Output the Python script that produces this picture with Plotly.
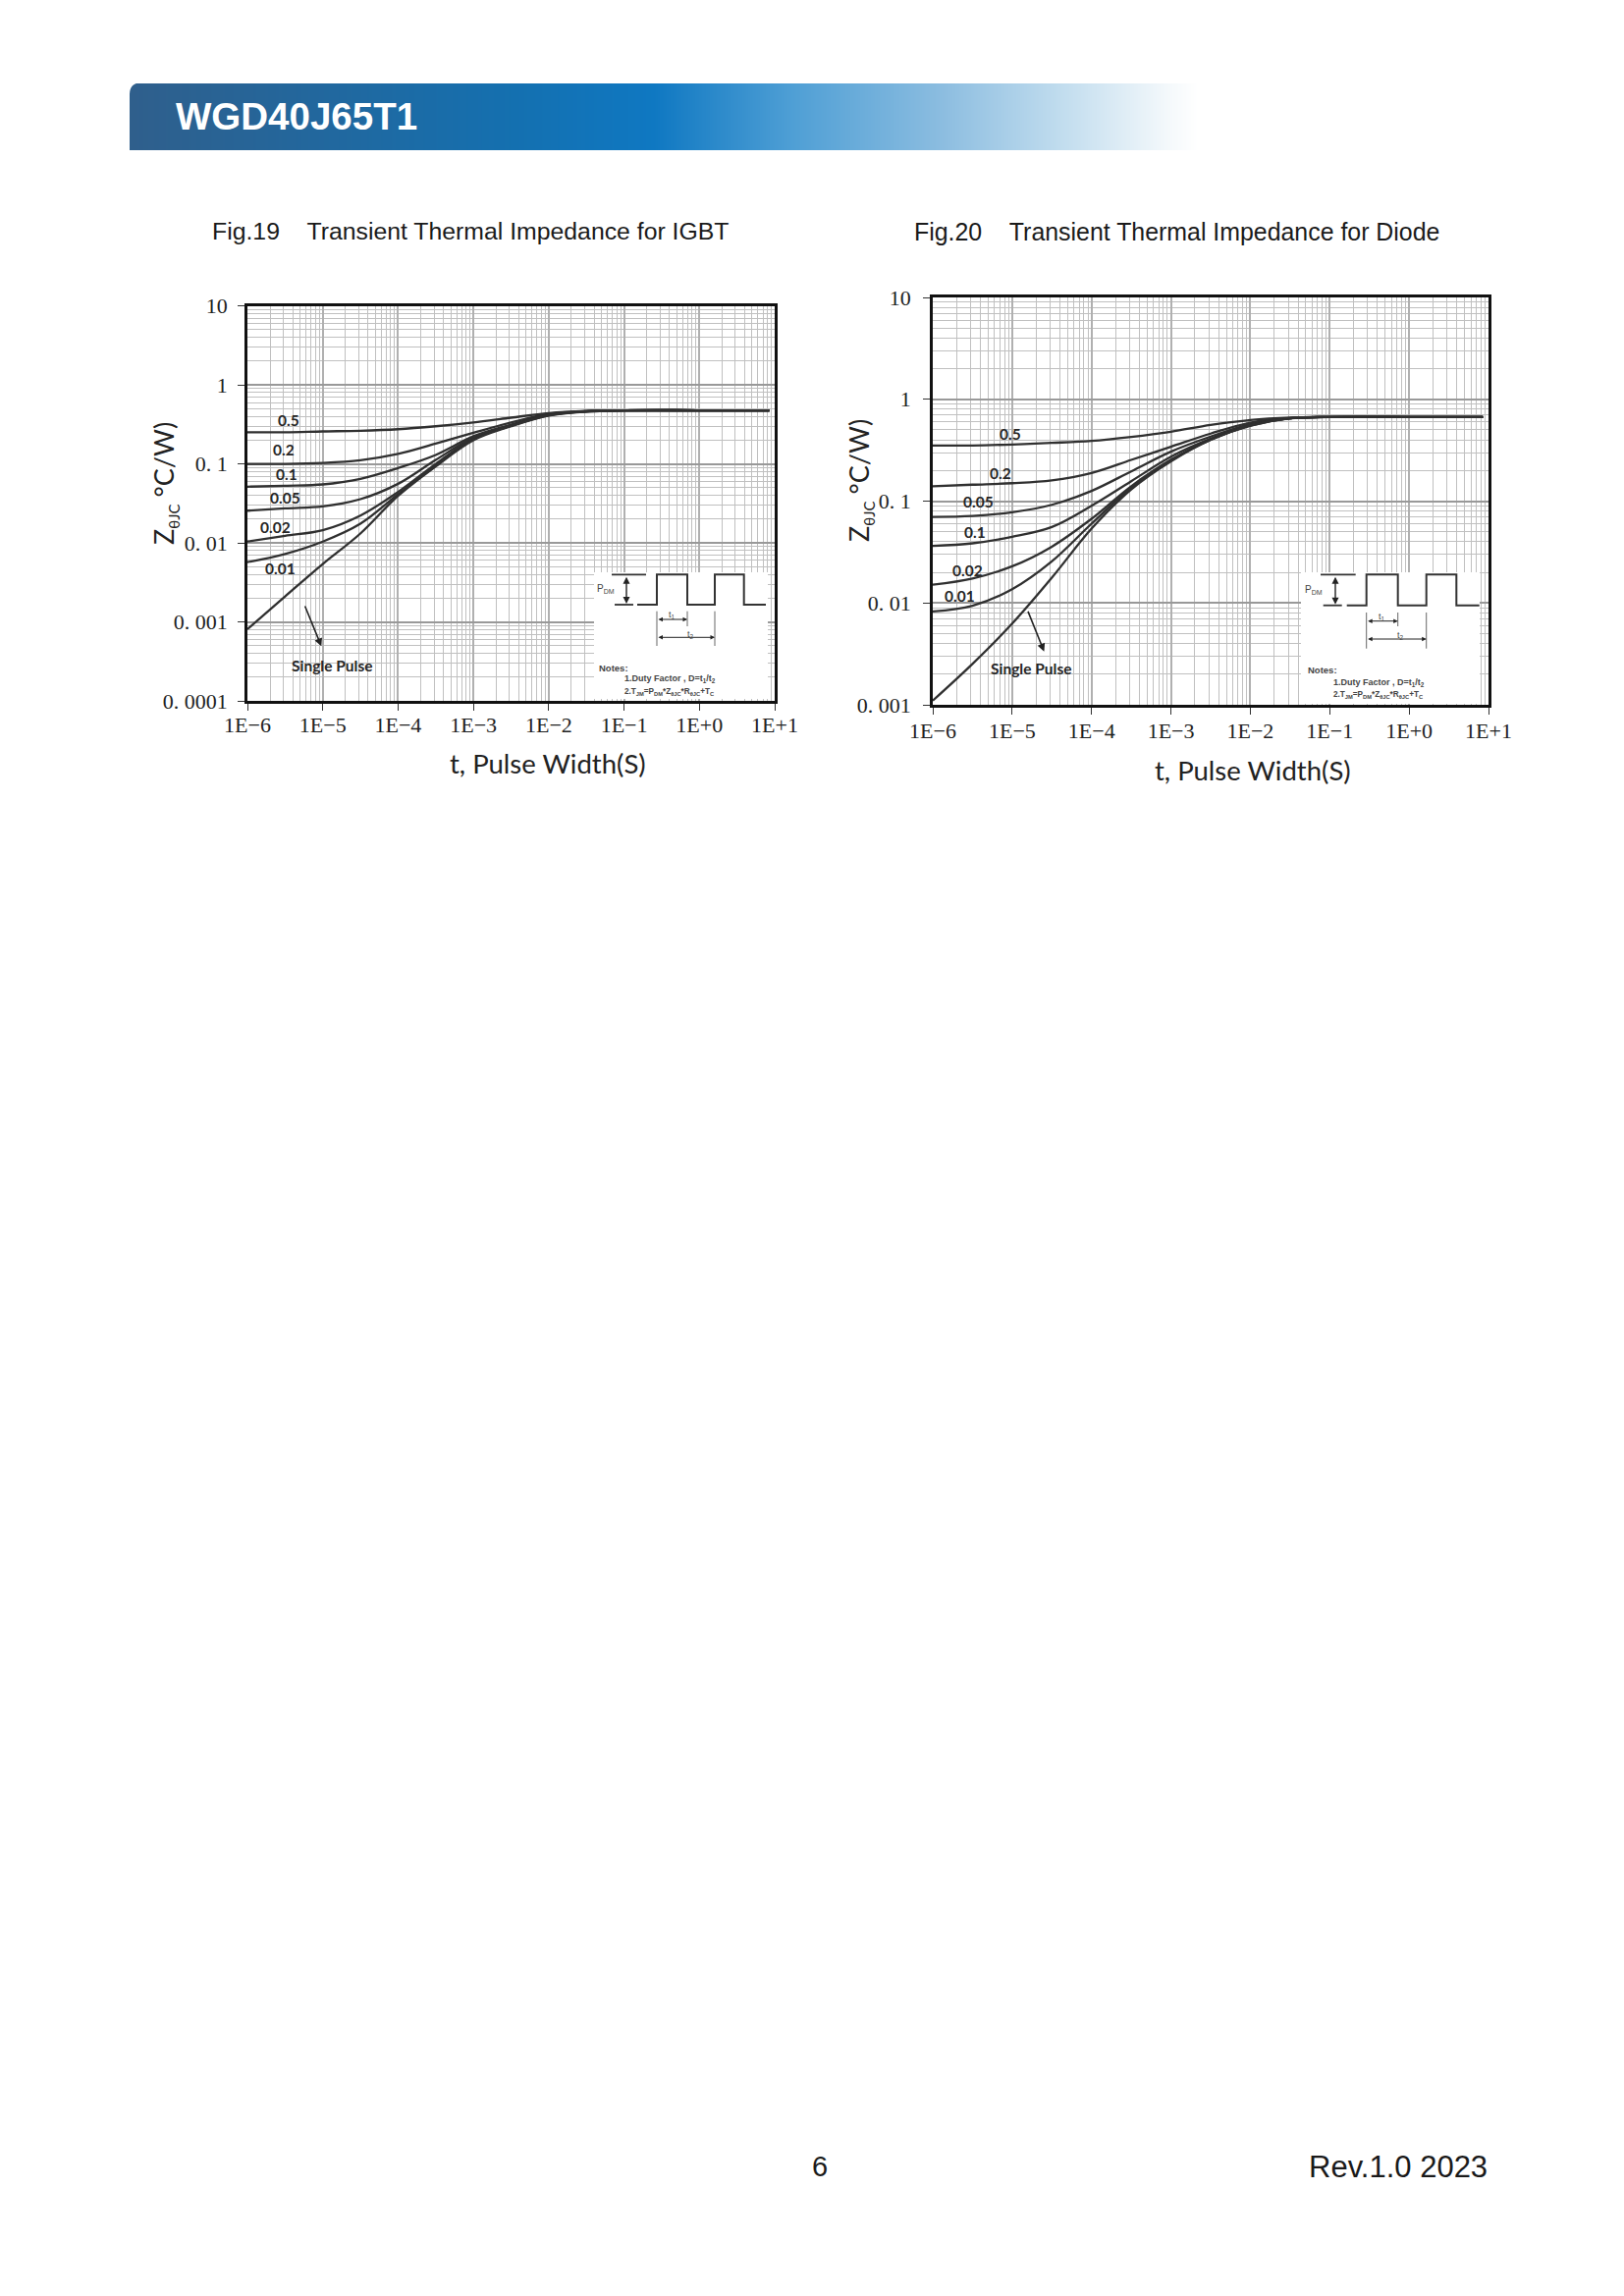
import plotly.graph_objects as go

# ---------- data ----------
fig19_t = [1e-6, 3.16e-6, 1e-5, 3.16e-5, 1e-4, 3.16e-4, 1e-3, 3.16e-3, 1e-2, 3.16e-2, 1e-1, 1, 8.5]
fig19_d05 = [.252, .252, .258, .263, .275, .30, .335, .385, .44, .468, .476, .477, .477]
fig19_d02 = [.100, .100, .103, .1115, .134, .181, .248, .335, .43, .466, .476, .477, .477]
fig19_d01 = [.0515, .053, .055, .0647, .0887, .13, .224, .315, .42, .464, .476, .477, .477]
fig19_d005 = [.0256, .0274, .029, .0358, .056, .1125, .215, .31, .418, .463, .476, .477, .477]
fig19_d002 = [.0104, .0123, .0145, .0222, .0442, .10, .21, .306, .415, .462, .475, .477, .477]
fig19_d001 = [.0057, .00724, .0104, .0175, .0413, .0955, .205, .303, .412, .461, .475, .477, .477]
fig19_single = [.00081, .0021, .0054, .01315, .0394, .093, .20, .30, .41, .46, .475, .477, .477]

fig20_t = [1e-6, 3.16e-6, 1e-5, 3.16e-5, 1e-4, 3.16e-4, 1e-3, 3.16e-3, 1e-2, 3.16e-2, 1e-1, 1, 8.5]
fig20_d05 = [.352, .352, .36, .373, .39, .427, .48, .56, .625, .66, .67, .67, .67]
fig20_d02 = [.14, .145, .15, .16, .189, .254, .342, .46, .59, .652, .67, .67, .67]
fig20_d005 = [.07, .0716, .0778, .092, .126, .196, .306, .43, .57, .651, .67, .67, .67]
fig20_d01 = [.0363, .0385, .0446, .0557, .09, .157, .273, .41, .56, .65, .67, .67, .67]
fig20_d002 = [.0151, .0174, .0229, .0357, .067, .14, .255, .40, .555, .65, .669, .67, .67]
fig20_d001 = [.00824, .0094, .01365, .0256, .06, .1355, .25, .40, .55, .65, .669, .67, .67]
fig20_single = [.0011, .00252, .00627, .0177, .0537, .13, .245, .40, .55, .65, .669, .67, .67]

x_tick_values = [1e-6, 1e-5, 1e-4, 1e-3, 1e-2, 1e-1, 1, 10]
x_tick_labels = ["1E\u22126", "1E\u22125", "1E\u22124", "1E\u22123", "1E\u22122", "1E\u22121", "1E+0", "1E+1"]
fig19_y_values = [1e-4, 1e-3, 1e-2, 1e-1, 1, 10]
fig19_y_labels = ["0. 0001", "0. 001", "0. 01", "0. 1", "1", "10"]
fig20_y_values = [1e-3, 1e-2, 1e-1, 1, 10]
fig20_y_labels = ["0. 001", "0. 01", "0. 1", "1", "10"]

header_stops = [0, .36, .49, .62, .76, .87, .97, 1]
header_colors = ["#2f5f8c", "#1470b0", "#0f78c2", "#4f9fd5", "#8cbde0", "#c0dcee", "#f3f8fb", "#ffffff"]

W, H = 1654, 2339
fx = lambda p: p / W
fy = lambda p: 1 - p / H

LINE = "#303030"
SERIF = "Liberation Serif"
SANS = "Liberation Sans"
LABEL = "Lato"

fig = go.Figure()

# header band
fig.add_trace(go.Heatmap(
    z=[[i / 255 for i in range(256)]], colorscale=[[s, c] for s, c in zip(header_stops, header_colors)],
    zsmooth="best", showscale=False, xaxis="x3", yaxis="y3", hoverinfo="skip"))


def curves(t, series, xa, ya):
    for name, vals in series:
        fig.add_trace(go.Scatter(x=t, y=vals, mode="lines", name=name, xaxis=xa, yaxis=ya,
                                 line=dict(color=LINE, width=2.3, shape="spline", smoothing=1.0)))


curves(fig19_t, [("0.5", fig19_d05), ("0.2", fig19_d02), ("0.1", fig19_d01), ("0.05", fig19_d005),
                 ("0.02", fig19_d002), ("0.01", fig19_d001), ("Single Pulse", fig19_single)], "x", "y")
curves(fig20_t, [("0.5", fig20_d05), ("0.2", fig20_d02), ("0.05", fig20_d005), ("0.1", fig20_d01),
                 ("0.02", fig20_d002), ("0.01", fig20_d001), ("Single Pulse", fig20_single)], "x2", "y2")


def log_axis(lo, hi, domain, anchor, tickvals, ticktext, standoff, major):
    return dict(type="log", range=[lo, hi], domain=domain, anchor=anchor, showline=True, mirror=True,
                automargin=False,
                linecolor="#111111", linewidth=2.6, ticks="outside", ticklen=7, tickwidth=1.2,
                tickcolor="#333333", tickvals=tickvals, ticktext=ticktext,
                tickfont=dict(family=SERIF, size=22, color="#222222"), ticklabelstandoff=standoff,
                showgrid=True, gridcolor=major, gridwidth=1.6, zeroline=False,
                minor=dict(dtick="D1", showgrid=True, gridcolor="#c0c0c0", gridwidth=1.2, ticks=""))


layout = dict(
    width=W, height=H, margin=dict(l=0, r=0, t=0, b=0, pad=0), paper_bgcolor="white", plot_bgcolor="white",
    showlegend=False, autosize=False,
    xaxis=log_axis(-6, 1, [fx(252), fx(789)], "y", x_tick_values, x_tick_labels, -4, "#b0b0b0"),
    yaxis=log_axis(-4, 1, [fy(714), fy(311.7)], "x", fig19_y_values, fig19_y_labels, 6, "#999999"),
    xaxis2=log_axis(-6, 1, [fx(950), fx(1516)], "y2", x_tick_values, x_tick_labels, -2, "#b0b0b0"),
    yaxis2=log_axis(-3, 1, [fy(718), fy(303)], "x2", fig20_y_values, fig20_y_labels, 8, "#999999"),
    xaxis3=dict(domain=[fx(132), fx(1222)], anchor="y3", visible=False, automargin=False, range=[-0.5, 255.5]),
    yaxis3=dict(domain=[fy(153), fy(85)], anchor="x3", visible=False, automargin=False, range=[-0.5, 0.5]),
)

ann, shp = [], []


def text(s, px, py, size, family=LABEL, color="#222222", xanchor="center", angle=0, bold=False):
    if bold:
        s = "<b>" + s + "</b>"
    ann.append(dict(text=s, x=fx(px), y=fy(py), xref="paper", yref="paper", showarrow=False,
                    xanchor=xanchor, yanchor="middle", textangle=angle,
                    font=dict(family=family, size=size, color=color)))


def arrow(x0, y0, x1, y1, side="end", size=1.0, width=1.6, head=2):
    ann.append(dict(text="", x=fx(x1), y=fy(y1), xref="paper", yref="paper", ax=x0 - x1, ay=y0 - y1,
                    axref="pixel", ayref="pixel", showarrow=True, arrowhead=head, startarrowhead=head,
                    arrowside=side, arrowsize=size, startarrowsize=size, arrowwidth=width, arrowcolor="#222222"))


def seg(pts, width=1.8, color="#333333"):
    path = "M " + " L ".join(f"{fx(a):.5f},{fy(b):.5f}" for a, b in pts)
    shp.append(dict(type="path", path=path, xref="paper", yref="paper", layer="above",
                    line=dict(color=color, width=width)))


def inset(box, top, bot, wave, px_a, ticks, y1, y2, tlo, thi, thi_mid, plab, t1lab, t2lab, notes, l1, l2):
    shp.append(dict(type="rect", xref="paper", yref="paper", layer="above", x0=fx(box[0]), x1=fx(box[1]),
                    y0=fy(box[3]), y1=fy(box[2]), line=dict(width=0), fillcolor="white"))
    seg([(top[0], top[2]), (top[1], top[2])])
    seg([(bot[0], bot[2]), (bot[1], bot[2])])
    a, b, c, d, e, f = wave
    seg([(a, bot[2]), (b, bot[2]), (b, top[2]), (c, top[2]), (c, bot[2]), (d, bot[2]),
         (d, top[2]), (e, top[2]), (e, bot[2]), (f, bot[2])], width=2)
    arrow(px_a, top[2] + 1, px_a, bot[2] - 1, side="end+start", size=1.0, width=1.4)
    seg([(ticks[0], tlo), (ticks[0], thi)], width=1, color="#666666")
    seg([(ticks[1], tlo), (ticks[1], thi_mid)], width=1, color="#666666")
    seg([(ticks[2], tlo), (ticks[2], thi)], width=1, color="#666666")
    arrow(ticks[0], y1, ticks[1], y1, side="end+start", size=0.9, width=1)
    arrow(ticks[0], y2, ticks[2], y2, side="end+start", size=0.9, width=1)
    text("P<sub>DM</sub>", plab[0], plab[1], 10, SANS, "#444444")
    text("t<sub>1</sub>", t1lab[0], t1lab[1], 9, SANS, "#444444")
    text("t<sub>2</sub>", t2lab[0], t2lab[1], 9, SANS, "#444444")
    text("Notes:", notes[0], notes[1], 9.5, SANS, "#444444", "left", bold=True)
    text("1.Duty Factor , D=t<sub>1</sub>/t<sub>2</sub>", l1[0], l1[1], 9, SANS, "#444444", "left", bold=True)
    text("2.T<sub>JM</sub>=P<sub>DM</sub>*Z<sub>\u03b8JC</sub>*R<sub>\u03b8JC</sub>+T<sub>C</sub>",
         l2[0], l2[1], 8.2, SANS, "#444444", "left", bold=True)


inset((605, 782, 583, 712), (623, 658, 585.3), (626, 645, 616), (649, 669, 700, 728, 757.7, 780), 638,
      (669, 700, 728), 631, 649.3, 622.7, 658, 638, (616.7, 600), (684, 627), (703, 646),
      (608, 680), (634, 691.7), (634, 705))
inset((1325, 1507, 583, 717), (1345, 1380.7, 585.3), (1347.7, 1366.7, 616.7),
      (1371.7, 1391.7, 1423.7, 1452.7, 1483.3, 1506.7), 1360,
      (1391.7, 1423.7, 1452.7), 632.7, 651, 624, 660.7, 638, (1338, 600.7), (1407.7, 628), (1426.7, 647.7),
      (1330, 682.7), (1356, 695.3), (1356, 707.7))

# curve labels
for s, px, py in [("0.5", 294.4, 428.3), ("0.2", 288.7, 457.7), ("0.1", 291.8, 482.7), ("0.05", 290, 507.3),
                  ("0.02", 280, 536.7), ("0.01", 285.3, 578.7), ("Single Pulse", 337.7, 678.3),
                  ("0.5", 1028.6, 441.6), ("0.2", 1018.8, 482.2), ("0.05", 996, 510.6), ("0.1", 992.9, 542),
                  ("0.02", 985.7, 580.9), ("0.01", 977.7, 607.2), ("Single Pulse", 1050.4, 681)]:
    text(s, px, py, 15.5, LABEL, "#262626", bold=True)
arrow(310, 616, 327.3, 658.3, size=1.0, width=1.6)
arrow(1046.4, 621.4, 1063.4, 663.7, size=1.0, width=1.6)

# axis titles
ZTITLE = "Z<sub><span style='font-size:15px'>\u03b8JC</span></sub> \u00b0C/W)"
text("t, Pulse Width(S)", 558, 777, 27.5, LABEL)
text("t, Pulse Width(S)", 1276.3, 784, 27.5, LABEL)
text(ZTITLE, 168, 493, 27, LABEL, angle=-90)
text(ZTITLE, 876, 490, 27, LABEL, angle=-90)

# page text
text("WGD40J65T1", 176.5, 118.5, 38.5, SANS, "white", "left", bold=True)
text("Fig.19\u00a0\u00a0\u00a0\u00a0Transient Thermal Impedance for IGBT", 214, 236, 24.8, SANS, "#1a1a1a", "left")
text("Fig.20\u00a0\u00a0\u00a0\u00a0Transient Thermal Impedance for Diode", 929, 236, 24.9, SANS, "#1a1a1a", "left")
text("6", 835, 2207, 29, SANS, "#1a1a1a")
text("Rev.1.0 2023", 1517, 2207, 31, SANS, "#1a1a1a", "right")

# rounded upper-left corner of the header band
shp.append(dict(type="path", xref="paper", yref="paper", layer="above", fillcolor="white", line=dict(width=0),
                path=f"M {fx(131)},{fy(84)} L {fx(143)},{fy(84)} Q {fx(132)},{fy(85)} {fx(132)},{fy(96)} L {fx(131)},{fy(96)} Z"))

fig.update_layout(annotations=ann, shapes=shp, **layout)
fig.write_html("out.html", config={"displayModeBar": False},
               post_script="document.body.style.margin='0';")
